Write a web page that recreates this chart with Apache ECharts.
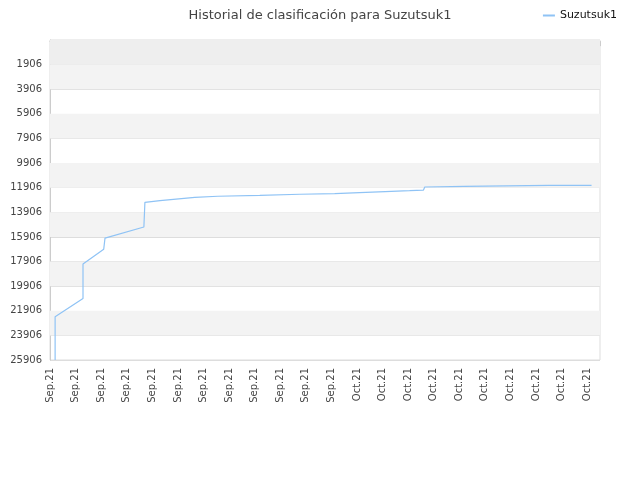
<!DOCTYPE html><html><head><meta charset="utf-8"><script src="https://cdn.jsdelivr.net/npm/echarts@6/dist/echarts.min.js"></script></head><body style="margin:0"><div id="c" style="width:640px;height:480px"></div><script>
const xLabels=['Sep.21','Sep.21','Sep.21','Sep.21','Sep.21','Sep.21','Sep.21','Sep.21','Sep.21','Sep.21','Sep.21','Sep.21','Oct.21','Oct.21','Oct.21','Oct.21','Oct.21','Oct.21','Oct.21','Oct.21','Oct.21','Oct.21'];
const xPos=[0.2,0.2,1.29,1.29,2.1,2.15,3.67,3.71,4.3,5.66,6.56,8.2,9.77,11.13,12.1,13.1,14.06,14.6,14.65,16.2,19.5,21.17];
const ranks=[25906,22400,20900,18100,16900,16000,15100,13100,12950,12700,12600,12530,12440,12380,12300,12220,12150,12100,11850,11800,11720,11720];
const bands=[[-94,1906,'#eeeeee'],[1906,3906,'#f3f3f3'],[5906,7906,'#f3f3f3'],[9906,11906,'#f3f3f3'],[13906,15906,'#f3f3f3'],[17906,19906,'#f3f3f3'],[21906,23906,'#f3f3f3']];
const ch=echarts.init(document.getElementById('c'));
ch.setOption({
title:{text:'Historial de clasificación para Suzutsuk1',left:'center',top:4,textStyle:{fontSize:13,fontWeight:'normal',color:'#444',fontFamily:'DejaVu Sans'}},
legend:{right:18,top:5,itemWidth:12,itemHeight:2,textStyle:{fontSize:11,color:'#111',fontFamily:'DejaVu Sans'},data:[{name:'Suzutsuk1',icon:'rect'}]},
grid:{left:50,right:40,top:40,bottom:120,show:true,borderColor:'#ddd',borderWidth:1},
xAxis:{type:'value',min:0,max:21.5,interval:1,axisLine:{lineStyle:{color:'#ccc'}},axisTick:{show:true,lineStyle:{color:'#ccc'}},splitLine:{show:false},
axisLabel:{rotate:90,fontSize:10,color:'#444',fontFamily:'DejaVu Sans',formatter:v=>xLabels[v]||''}},
yAxis:{type:'value',inverse:true,min:-94,max:25906,interval:2000,axisLine:{show:true,lineStyle:{color:'#ccc'}},axisTick:{show:false},splitLine:{lineStyle:{color:'#ddd'}},
axisLabel:{fontSize:10,color:'#444',fontFamily:'DejaVu Sans',formatter:v=>v<0?'':String(v)}},
series:[{name:'Suzutsuk1',type:'line',showSymbol:false,symbol:'none',color:'#8fc3f5',lineStyle:{width:1.2},data:xPos.map((x,i)=>[x,ranks[i]]),
markArea:{silent:true,data:bands.map(b=>[{yAxis:b[0],itemStyle:{color:b[2]}},{yAxis:b[1]}])}}]
});
</script></body></html>
